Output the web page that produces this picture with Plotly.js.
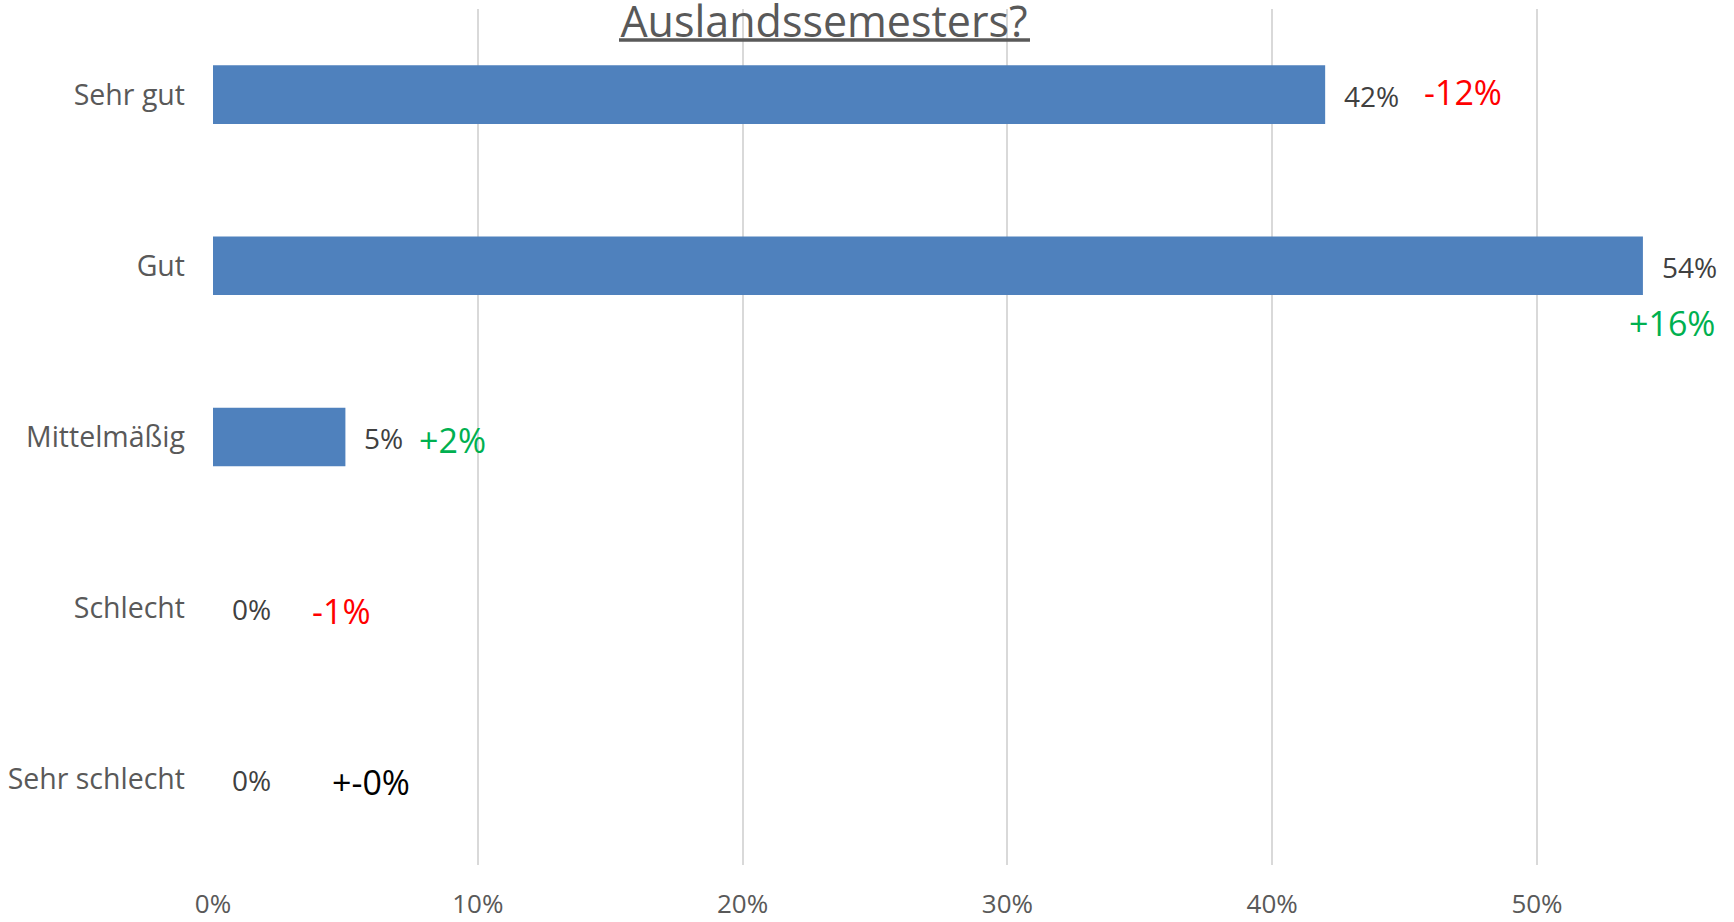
<!DOCTYPE html>
<html>
<head>
<meta charset="utf-8">
<script src="https://cdn.plot.ly/plotly-3.0.1.min.js"></script>
<style>html,body{margin:0;padding:0;background:#fff;}</style>
</head>
<body>
<div id="chart" style="width:1734px;height:922px;"></div>
<script>
// Data
const categories = ['Sehr gut', 'Gut', 'Mittelmäßig', 'Schlecht', 'Sehr schlecht'];
const shares = [42, 54, 5, 0, 0];
const changes = [-12, 16, 2, -1, 0];
const tickValues = [0, 10, 20, 30, 40, 50];
const titleText = 'Auslandssemesters?';

// Styling / placement (layout, not data)
const FONT = 'Open Sans, Noto Sans, sans-serif';
const changeShift = [97, 74, 72, 97, 117];     // px from bar end
const changeYShift = [3, -57, -3, -3, -3];
const changeAnchor = ['left', 'right', 'left', 'left', 'left'];
const L = 213, B = 57, T = 9, W = 1734, H = 922;
const plotW = W - L, plotH = H - T - B;

function fmtChange(v) {
  if (v > 0) return '+' + v + '%';
  if (v < 0) return '-' + Math.abs(v) + '%';
  return '+-0%';
}
function colChange(v) {
  if (v > 0) return '#00B050';
  if (v < 0) return '#FF0000';
  return '#000000';
}

const annotations = [];
categories.forEach((c, i) => {
  annotations.push({
    x: shares[i], y: c, xref: 'x', yref: 'y',
    text: shares[i] + '%', showarrow: false,
    xanchor: 'left', yanchor: 'middle', xshift: 17, yshift: -1,
    font: {family: FONT, size: 28, color: '#404040'}
  });
  annotations.push({
    x: shares[i], y: c, xref: 'x', yref: 'y',
    text: fmtChange(changes[i]), showarrow: false,
    xanchor: changeAnchor[i], yanchor: 'middle',
    xshift: changeShift[i], yshift: changeYShift[i],
    font: {family: FONT, size: 34, color: colChange(changes[i])}
  });
});

const trace = {
  type: 'bar',
  orientation: 'h',
  x: shares,
  y: categories,
  marker: {color: '#4F81BD'},
  hoverinfo: 'skip'
};

// title underline (px -> paper coords)
const px2x = p => (p - L) / plotW;
const py2y = p => (H - B - p) / plotH;

const layout = {
  width: W, height: H,
  margin: {l: L, r: 0, t: T, b: B, pad: 0},
  paper_bgcolor: '#ffffff', plot_bgcolor: '#ffffff',
  showlegend: false,
  bargap: 0.658,
  title: {
    text: titleText,
    x: 824 / W, xanchor: 'center', xref: 'container',
    y: 1 - 37 / H, yanchor: 'bottom', yref: 'container',
    font: {family: FONT, size: 43, color: '#595959'}
  },
  shapes: [{
    type: 'line', xref: 'paper', yref: 'paper',
    x0: px2x(619), x1: px2x(1030), y0: py2y(40), y1: py2y(40),
    line: {color: '#595959', width: 3.5}, layer: 'above'
  }],
  xaxis: {
    range: [0, plotW / 26.48],
    tickvals: tickValues,
    ticktext: tickValues.map(v => v + '%'),
    showgrid: true, gridcolor: '#D9D9D9', gridwidth: 2,
    zeroline: false, showline: false, ticks: '',
    ticklabelstandoff: 21,
    tickfont: {family: FONT, size: 26, color: '#595959'},
    fixedrange: true
  },
  yaxis: {
    type: 'category',
    categoryorder: 'array', categoryarray: categories,
    autorange: 'reversed',
    showgrid: false, zeroline: false, showline: false, ticks: '',
    ticklabelstandoff: 27,
    tickfont: {family: FONT, size: 28.5, color: '#595959'},
    fixedrange: true
  },
  annotations: annotations
};

Plotly.newPlot('chart', [trace], layout, {displayModeBar: false, staticPlot: true});
</script>
</body>
</html>
